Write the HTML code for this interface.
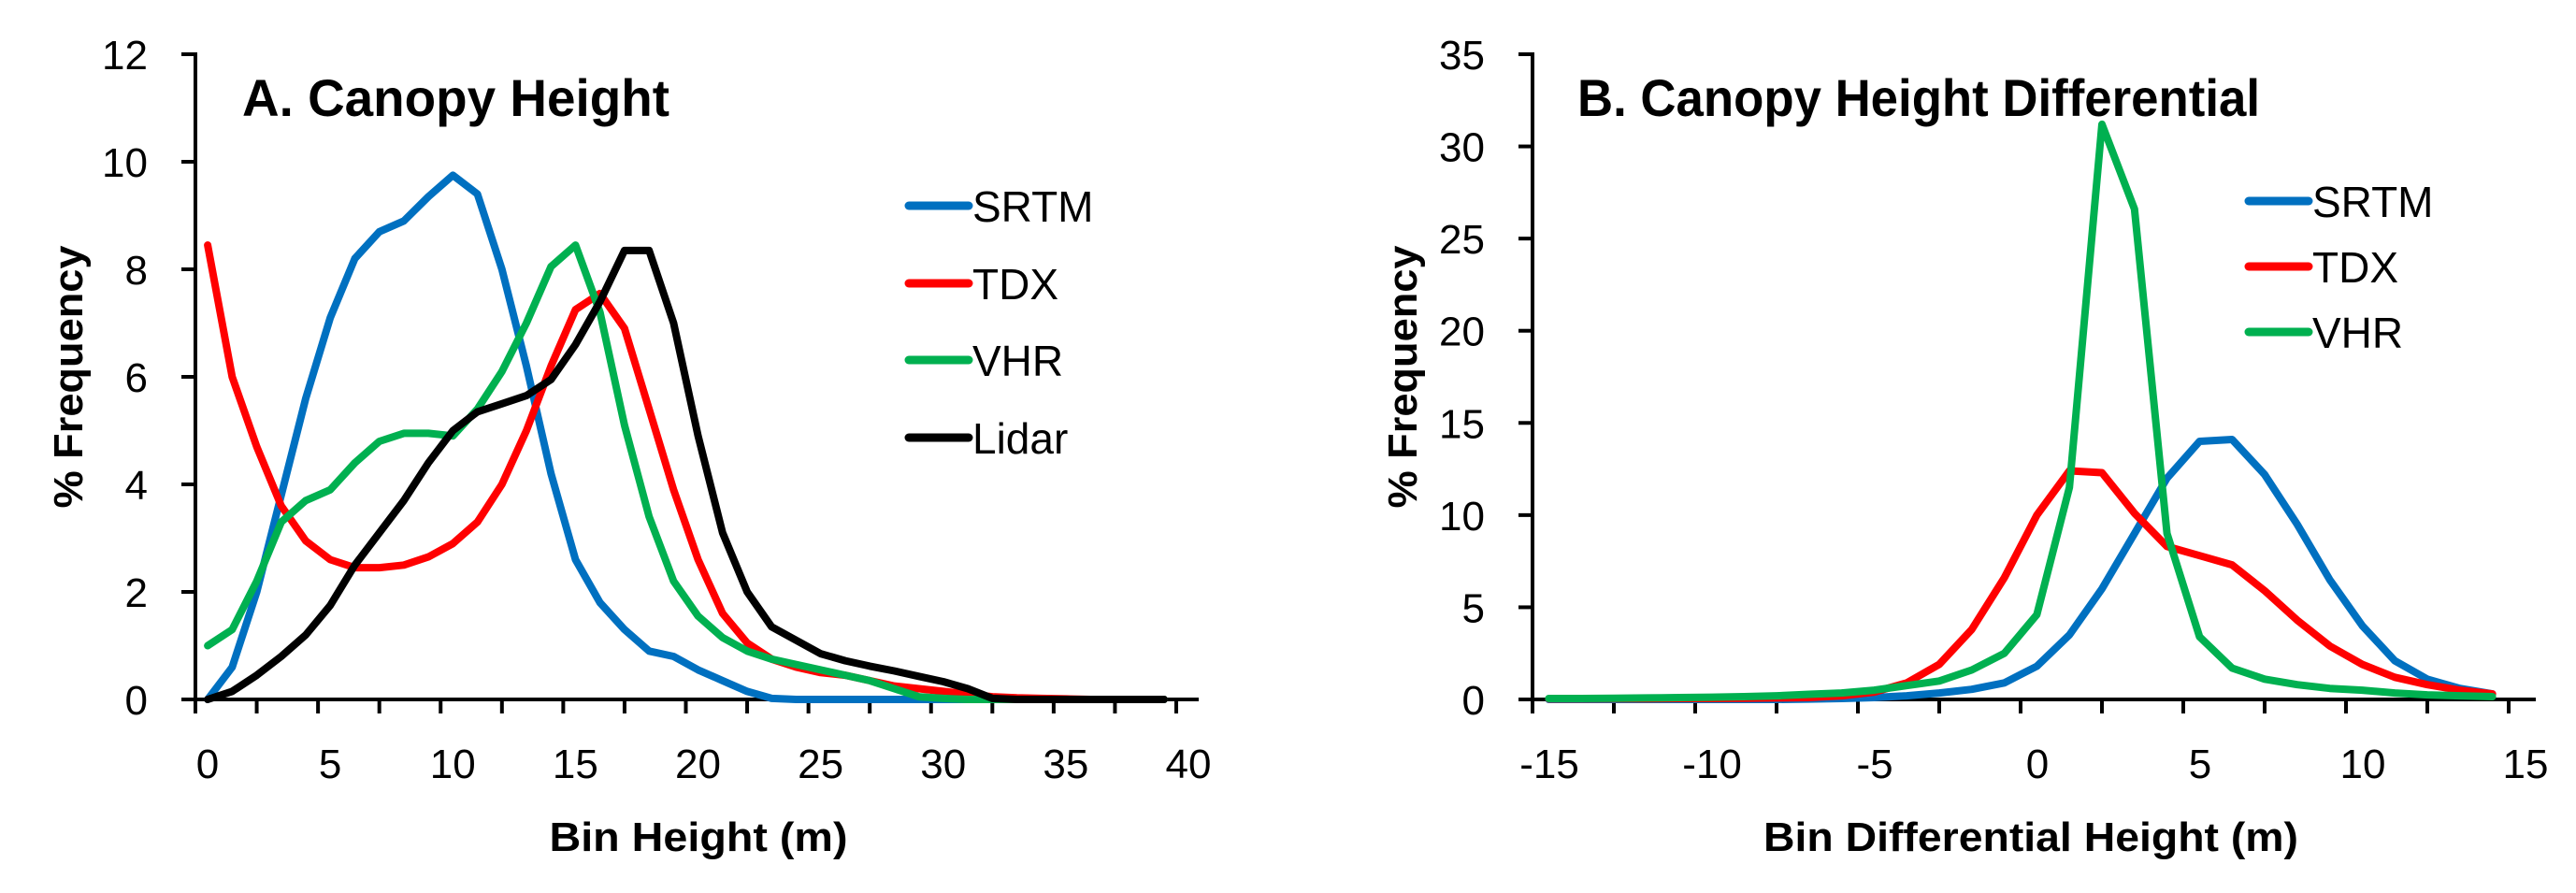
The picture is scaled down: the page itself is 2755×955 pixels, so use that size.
<!DOCTYPE html>
<html><head><meta charset="utf-8">
<style>
html,body{margin:0;padding:0;background:#fff;}
svg{display:block;}
text{font-family:"Liberation Sans",sans-serif;fill:#000;}
.tick{font-size:44px;}
.ttl{font-size:56px;font-weight:bold;}
.axl{font-size:44px;font-weight:bold;}
.leg{font-size:46px;}
</style></head>
<body>
<svg id="chart" width="2755" height="955" viewBox="0 0 2755 955" xmlns="http://www.w3.org/2000/svg">
<text class="ttl" x="259" y="124" textLength="457" lengthAdjust="spacingAndGlyphs">A. Canopy Height</text>
<text class="ttl" x="1687" y="124" textLength="730" lengthAdjust="spacingAndGlyphs">B. Canopy Height Differential</text>
<text class="axl" transform="translate(88,403) rotate(-90)" text-anchor="middle" textLength="281" lengthAdjust="spacingAndGlyphs">% Frequency</text>
<text class="axl" transform="translate(1515,403) rotate(-90)" text-anchor="middle" textLength="281" lengthAdjust="spacingAndGlyphs">% Frequency</text>
<text class="axl" x="747" y="910" text-anchor="middle" textLength="319" lengthAdjust="spacingAndGlyphs">Bin Height (m)</text>
<text class="axl" x="2172" y="910" text-anchor="middle" textLength="572" lengthAdjust="spacingAndGlyphs">Bin Differential Height (m)</text>
<g id="ga"></g>
<g id="gb"></g>
</svg>
<script>
// Chart A data
const aBins = [0.5,1.5,2.5,3.5,4.5,5.5,6.5,7.5,8.5,9.5,10.5,11.5,12.5,13.5,14.5,15.5,16.5,17.5,18.5,19.5,20.5,21.5,22.5,23.5,24.5,25.5,26.5,27.5,28.5,29.5,30.5,31.5,32.5,33.5,34.5,35.5,36.5,37.5,38.5,39.5];
const aSRTM = [0,0.6,2,3.8,5.6,7.1,8.2,8.7,8.9,9.35,9.75,9.4,8.0,6.2,4.2,2.6,1.8,1.3,0.9,0.8,0.55,0.35,0.15,0.02,0,0,0,0,0,0,0,0,0,0,0,0,0,0,0,0];
const aTDX = [8.45,6.0,4.7,3.6,2.95,2.6,2.45,2.45,2.5,2.65,2.9,3.3,4.0,5.0,6.2,7.25,7.55,6.9,5.4,3.9,2.6,1.6,1.05,0.75,0.6,0.5,0.45,0.35,0.25,0.2,0.15,0.1,0.05,0.03,0.02,0.01,0,0,0,0];
const aVHR = [1.0,1.3,2.2,3.3,3.7,3.9,4.4,4.8,4.95,4.95,4.9,5.4,6.1,7.0,8.05,8.45,7.2,5.1,3.4,2.2,1.55,1.15,0.9,0.75,0.65,0.55,0.45,0.35,0.2,0.05,0.02,0,0,0,0,0,0,0,0,0];
const aLidar = [0,0.15,0.45,0.8,1.2,1.75,2.5,3.1,3.7,4.4,5.0,5.35,5.5,5.65,5.95,6.6,7.4,8.35,8.35,7.0,4.9,3.1,2.0,1.35,1.1,0.85,0.72,0.62,0.53,0.43,0.33,0.2,0.02,0,0,0,0,0,0,0];
const aXTicks = [0,5,10,15,20,25,30,35,40];
const aYTicks = [0,2,4,6,8,10,12];
// Chart B data
const bBins = [-14.5,-13.5,-12.5,-11.5,-10.5,-9.5,-8.5,-7.5,-6.5,-5.5,-4.5,-3.5,-2.5,-1.5,-0.5,0.5,1.5,2.5,3.5,4.5,5.5,6.5,7.5,8.5,9.5,10.5,11.5,12.5,13.5,14.5];
const bSRTM = [0,0,0,0,0,0,0,0,0.02,0.05,0.1,0.2,0.35,0.55,0.9,1.8,3.5,6.0,9.0,12.0,14.0,14.1,12.2,9.5,6.5,4.0,2.1,1.1,0.6,0.3];
const bTDX = [0.03,0.03,0.04,0.04,0.05,0.05,0.06,0.08,0.1,0.2,0.4,0.9,1.9,3.8,6.6,10.0,12.4,12.3,10.1,8.3,7.8,7.3,5.9,4.3,2.9,1.9,1.2,0.8,0.5,0.3];
const bVHR = [0.05,0.05,0.06,0.08,0.1,0.12,0.15,0.2,0.28,0.35,0.5,0.75,1.0,1.6,2.5,4.6,11.5,31.2,26.6,9.0,3.4,1.7,1.1,0.8,0.6,0.5,0.35,0.25,0.2,0.15];
const bXTicks = [-15,-10,-5,0,5,10,15];
const bYTicks = [0,5,10,15,20,25,30,35];

const NS = 'http://www.w3.org/2000/svg';
function mk(parent, tag, attrs){const e=document.createElementNS(NS,tag);for(const k in attrs)e.setAttribute(k,attrs[k]);parent.appendChild(e);return e;}

function drawChart(g, cfg){
  const sx = v => cfg.x0 + (v-cfg.xmin)/(cfg.xmax-cfg.xmin)*(cfg.x1-cfg.x0);
  const sy = v => cfg.y0 - (v-cfg.ymin)/(cfg.ymax-cfg.ymin)*(cfg.y0-cfg.y1);
  const ya = mk(g,'line',{x1:cfg.x0,y1:cfg.y1-2,x2:cfg.x0,y2:cfg.y0+15,stroke:'#000','stroke-width':4});
  
  
  const xa = mk(g,'line',{x1:cfg.x0-15,y1:cfg.y0,x2:cfg.xEnd,y2:cfg.y0,stroke:'#000','stroke-width':4});
  
  
  cfg.yTicks.forEach(v=>{
    const y=sy(v);
    mk(g,'line',{x1:cfg.x0-15,y1:y,x2:cfg.x0,y2:y,stroke:'#000','stroke-width':4});
    const t=mk(g,'text',{x:cfg.x0-51,y:y+16,'text-anchor':'end',class:'tick'});
    t.textContent=v;
    
    
  });
  const step=(cfg.xTicks[1]-cfg.xTicks[0])/2;
  for(let v=cfg.xmin; v<=cfg.xmax+1e-9; v+=step){
    const x=sx(v);
    mk(g,'line',{x1:x,y1:cfg.y0,x2:x,y2:cfg.y0+15,stroke:'#000','stroke-width':4});
  }
  cfg.xTicks.forEach(v=>{
    const t=mk(g,'text',{x:sx(v)+cfg.lblOff,y:cfg.y0+84,'text-anchor':'middle',class:'tick'});
    t.textContent=v;
    
    
  });
  cfg.series.forEach(s=>{
    const d=cfg.bins.map((b,i)=>(i?'L':'M')+sx(b).toFixed(1)+','+sy(s.vals[i]).toFixed(1)).join(' ');
    const p=mk(g,'path',{d:d,fill:'none',stroke:s.color,'stroke-width':8,'stroke-linejoin':'round','stroke-linecap':'round'});
    
    
  });
  cfg.series.forEach((s,i)=>{
    const y=cfg.legY[i];
    const l=mk(g,'line',{x1:cfg.legX,y1:y,x2:cfg.legX+64,y2:y,stroke:s.color,'stroke-width':9,'stroke-linecap':'round'});
    
    
    const t=mk(g,'text',{x:cfg.legX+68,y:y+17,class:'leg'});
    t.textContent=s.name;
    
    
  });
}
drawChart(document.getElementById('ga'),{
  id:'chart-a',x0:209,x1:1258,xmin:0,xmax:40,y0:748,y1:58,ymin:0,ymax:12,xEnd:1282,lblOff:13,
  xTicks:aXTicks,yTicks:aYTicks,bins:aBins,
  series:[{name:'SRTM',color:'#0070C0',vals:aSRTM},{name:'TDX',color:'#FF0000',vals:aTDX},{name:'VHR',color:'#00B050',vals:aVHR},{name:'Lidar',color:'#000000',vals:aLidar}],
  legX:972,legY:[220,303,385,468]
});
drawChart(document.getElementById('gb'),{
  id:'chart-b',x0:1639,x1:2683,xmin:-15,xmax:15,y0:748,y1:58,ymin:0,ymax:35,xEnd:2712,lblOff:18,
  xTicks:bXTicks,yTicks:bYTicks,bins:bBins,
  series:[{name:'SRTM',color:'#0070C0',vals:bSRTM},{name:'TDX',color:'#FF0000',vals:bTDX},{name:'VHR',color:'#00B050',vals:bVHR}],
  legX:2405,legY:[215,285,355]
});
</script>
</body></html>
